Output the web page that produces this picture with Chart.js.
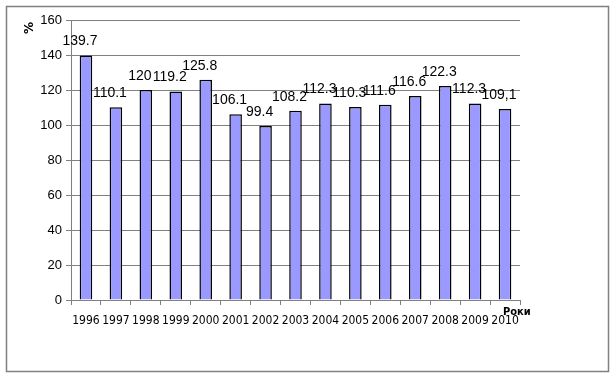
<!DOCTYPE html>
<html>
<head>
<meta charset="utf-8">
<script src="https://cdn.jsdelivr.net/npm/chart.js@4"></script>
<style>
  html, body { margin: 0; padding: 0; background: #fff; }
  #wrap { width: 613px; height: 378px; }
</style>
</head>
<body>
<div id="wrap"><canvas id="myChart" width="613" height="378"></canvas></div>
<script>
var years = ['1996', '1997', '1998', '1999', '2000', '2001', '2002', '2003',
             '2004', '2005', '2006', '2007', '2008', '2009', '2010'];
var values = [139.7, 110.1, 120, 119.2, 125.8, 106.1, 99.4, 108.2,
              112.3, 110.3, 111.6, 116.6, 122.3, 112.3, 109.1];
var valueLabels = ['139.7', '110.1', '120', '119.2', '125.8', '106.1', '99.4', '108.2',
                   '112.3', '110.3', '111.6', '116.6', '122.3', '112.3', '109,1'];

// frame around the whole chart + axis titles
var framePlugin = {
    id: 'frame',
    beforeDraw: function (chart) {
        var c = chart.ctx;
        c.save();
        c.fillStyle = '#fff';
        c.fillRect(0, 0, chart.width, chart.height);
        c.strokeStyle = '#808080';
        c.lineWidth = 1.5;
        c.strokeRect(6.5, 6.5, 602, 365);
        c.restore();
    },
    afterDraw: function (chart) {
        var c = chart.ctx;
        var area = chart.chartArea;
        c.save();
        c.fillStyle = '#000';
        c.font = 'bold 11px "DejaVu Sans Condensed"';
        c.textAlign = 'left';
        c.textBaseline = 'middle';
        c.fillText('Роки', area.right - 17, area.bottom + 12);
        c.translate(30, 28);
        c.rotate(-Math.PI / 2);
        c.font = 'bold 12px "DejaVu Sans"';
        c.textAlign = 'center';
        c.fillText('%', 0, 0);
        c.restore();
    }
};

// value labels above the bars
var labelPlugin = {
    id: 'valueLabels',
    afterDatasetsDraw: function (chart) {
        var c = chart.ctx;
        var meta = chart.getDatasetMeta(0);
        c.save();
        c.fillStyle = '#000';
        c.font = '14px "Liberation Sans"';
        c.textAlign = 'center';
        c.textBaseline = 'bottom';
        meta.data.forEach(function (bar, i) {
            c.fillText(valueLabels[i], bar.x - 6, bar.y - 7);
        });
        c.restore();
    }
};

var ctx = document.getElementById('myChart');
var myChart = new Chart(ctx, {
    type: 'bar',
    data: {
        labels: years,
        datasets: [{
            label: '',
            data: values,
            backgroundColor: '#9999FF',
            borderColor: '#000',
            borderWidth: 1.5,
            barPercentage: 0.42,
            categoryPercentage: 1
        }]
    },
    options: {
        responsive: false,
        animation: false,
        layout: { padding: { left: 0, top: 20, right: 93, bottom: 0 } },
        plugins: {
            legend: { display: false },
            tooltip: { enabled: false }
        },
        scales: {
            y: {
                min: 0,
                max: 160,
                ticks: {
                    stepSize: 20,
                    color: '#000',
                    padding: 4,
                    font: { family: 'Liberation Sans', size: 13 }
                },
                grid: {
                    color: '#808080',
                    tickLength: 5,
                    tickColor: '#808080'
                },
                border: { color: '#808080' },
                afterFit: function (scale) { scale.width = 71; }
            },
            x: {
                ticks: {
                    color: '#000',
                    padding: 9,
                    maxRotation: 0,
                    autoSkip: false,
                    font: { family: 'DejaVu Sans Condensed', size: 12 }
                },
                grid: {
                    drawOnChartArea: false,
                    tickLength: 5,
                    tickColor: '#808080'
                },
                border: { color: '#808080' },
                afterFit: function (scale) { scale.height = 78; }
            }
        }
    },
    plugins: [framePlugin, labelPlugin]
});
</script>
</body>
</html>
